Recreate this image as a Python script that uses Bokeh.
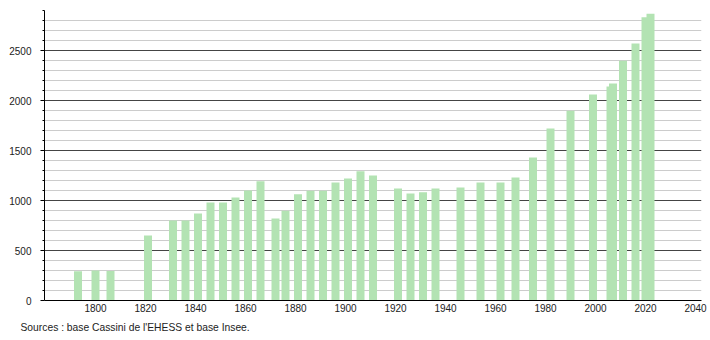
from bokeh.plotting import figure
from bokeh.models import Range1d, FixedTicker, Title
from bokeh.embed import file_html
from bokeh.resources import INLINE

years = [1793, 1800, 1806, 1821, 1831, 1836, 1841, 1846, 1851, 1856, 1861, 1866,
         1872, 1876, 1881, 1886, 1891, 1896, 1901, 1906, 1911, 1921, 1926, 1931,
         1936, 1946, 1954, 1962, 1968, 1975, 1982, 1990, 1999, 2006, 2007, 2011,
         2016, 2020, 2022]
population = [293, 300, 296, 650, 800, 800, 870, 980, 980, 1030, 1100, 1193,
              820, 897, 1063, 1097, 1097, 1180, 1220, 1293, 1250, 1120, 1070, 1083,
              1120, 1130, 1180, 1180, 1230, 1430, 1720, 1897, 2060, 2140, 2170, 2397,
              2570, 2833, 2867]
x_ticks = [1800, 1820, 1840, 1860, 1880, 1900, 1920, 1940, 1960, 1980, 2000, 2020, 2040]
y_major = [0, 500, 1000, 1500, 2000, 2500]
y_minor = [v for v in range(0, 3000, 100) if v % 500 != 0]
source_text = "Sources : base Cassini de l'EHESS et base Insee."

FONT = "Liberation Sans"

p = figure(width=710, height=340, output_backend="svg", toolbar_location=None,
           x_range=Range1d(1779.6, 2042.4), y_range=Range1d(0, 2900))
p.min_border_left = 44
p.min_border_right = 9
p.min_border_top = 10
p.min_border_bottom = 40
p.outline_line_color = None
p.background_fill_color = "white"
p.border_fill_color = "white"

p.vbar(x=years, top=population, width=3.2, bottom=0,
       fill_color="#b3e3b3", line_color=None)

# x axis
p.xaxis.ticker = FixedTicker(ticks=x_ticks)
p.xaxis.major_tick_out = 0
p.xaxis.major_tick_in = 0
p.xaxis.minor_tick_out = 0
p.xaxis.minor_tick_in = 0
p.xaxis.axis_line_color = "black"
p.xaxis.axis_line_width = 1
p.xaxis.major_label_text_font = FONT
p.xaxis.major_label_text_font_size = "10px"
p.xaxis.major_label_text_color = "#222222"
p.xaxis.major_label_standoff = 3
p.xgrid.grid_line_color = None

# y axis
p.yaxis.ticker = FixedTicker(ticks=y_major, minor_ticks=y_minor)
p.yaxis.major_tick_out = 4
p.yaxis.major_tick_in = 0
p.yaxis.minor_tick_out = 2
p.yaxis.minor_tick_in = 0
p.yaxis.axis_line_color = "black"
p.yaxis.major_tick_line_color = "black"
p.yaxis.minor_tick_line_color = "black"
p.yaxis.major_label_text_font = FONT
p.yaxis.major_label_text_font_size = "10px"
p.yaxis.major_label_text_color = "#222222"
p.yaxis.major_label_standoff = 9

p.ygrid.grid_line_color = "#444444"
p.ygrid.grid_line_width = 1
p.ygrid.minor_grid_line_color = "#cccccc"
p.ygrid.minor_grid_line_width = 1

src = Title(text=source_text, align="left", text_font=FONT, text_font_size="10.3px",
            text_font_style="normal", text_color="#222222", offset=-24)
p.add_layout(src, "below")

open("out.html", "w").write(file_html(p, INLINE))
